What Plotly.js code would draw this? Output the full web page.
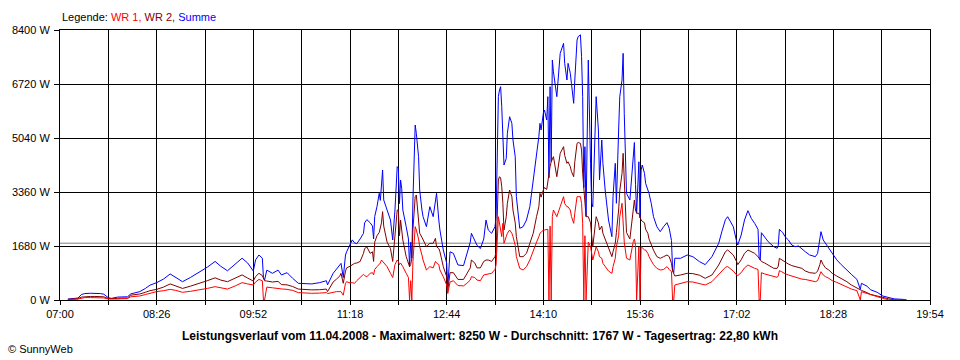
<!DOCTYPE html>
<html><head><meta charset="utf-8">
<script src="https://cdn.plot.ly/plotly-3.0.1.min.js"></script>
<style>html,body{margin:0;padding:0;background:#fff}#chart{width:960px;height:360px}</style>
</head><body><div id="chart"></div>
<script>
const times = ["07:07","07:09","07:16","07:19","07:22","07:27","07:31","07:36","07:39","07:43","07:46","07:51","07:55","08:00","08:03","08:08","08:11","08:16","08:20","08:26","08:32","08:38","08:43","08:49","08:56","09:05","09:11","09:18","09:23","09:29","09:36","09:42","09:47","09:52","09:54","09:57","10:00","10:01","10:02","10:04","10:09","10:14","10:17","10:22","10:27","10:32","10:38","10:44","10:51","10:57","10:58","11:03","11:06","11:09","11:10","11:12","11:14","11:15","11:18","11:20","11:22","11:24","11:27","11:30","11:31","11:33","11:36","11:38","11:39","11:40","11:42","11:44","11:45","11:46","11:47","11:48","11:51","11:54","11:56","11:58","12:00","12:01","12:02","12:03","12:04","12:05","12:08","12:10","12:11","12:12","12:13","12:14","12:16","12:17","12:19","12:20","12:22","12:23","12:26","12:29","12:32","12:34","12:35","12:37","12:38","12:41","12:44","12:45","12:47","12:50","12:54","12:59","13:02","13:05","13:06","13:09","13:11","13:14","13:17","13:19","13:21","13:24","13:27","13:28","13:30","13:31","13:32","13:33","13:34","13:35","13:37","13:38","13:40","13:42","13:43","13:45","13:46","13:48","13:49","13:52","13:55","13:58","14:01","14:04","14:06","14:07","14:08","14:10","14:11","14:13","14:14","14:15","14:16","14:17","14:18","14:19","14:22","14:25","14:28","14:29","14:31","14:32","14:34","14:35","14:37","14:38","14:40","14:41","14:43","14:44","14:45","14:46","14:47","14:48","14:50","14:52","14:53","14:54","14:57","14:59","15:00","15:02","15:03","15:05","15:08","15:11","15:12","15:14","15:15","15:17","15:18","15:20","15:21","15:22","15:24","15:27","15:30","15:31","15:32","15:33","15:35","15:36","15:37","15:38","15:40","15:41","15:43","15:44","15:46","15:48","15:51","15:54","15:57","16:00","16:02","16:04","16:05","16:06","16:07","16:12","16:18","16:23","16:29","16:34","16:40","16:46","16:49","16:52","16:54","16:59","17:02","17:03","17:06","17:09","17:12","17:15","17:18","17:21","17:22","17:23","17:24","17:27","17:30","17:35","17:38","17:39","17:40","17:42","17:43","17:45","17:48","17:51","17:54","17:57","18:00","18:03","18:07","18:12","18:14","18:16","18:17","18:19","18:21","18:24","18:27","18:31","18:35","18:40","18:44","18:49","18:52","18:53","18:58","19:01","19:07","19:12","19:17","19:22","19:30","19:33"];
const wr1 = [20,15,30,60,75,75,70,80,65,30,25,30,40,45,100,110,125,170,215,260,290,330,300,240,270,310,360,415,380,340,440,540,500,467,560,640,600,0,0,400,380,370,345,330,300,230,208,208,215,230,200,250,260,260,260,150,520,570,530,540,519,600,700,800,760,726,830,850,780,950,1037,1100,1150,1244,1200,1150,1037,830,700,1100,1244,1200,1100,1150,1100,1037,830,700,0,600,0,1200,2281,2178,1900,1659,1400,1244,933,1037,1000,1200,1150,1100,933,726,467,200,560,600,450,440,520,620,726,700,620,600,780,800,800,830,950,1100,2592,2385,2300,1970,2385,1763,1970,2075,2178,2075,1970,1700,1348,1100,985,933,1037,1244,1556,1800,1970,2075,2100,2178,2178,2178,2200,0,2300,0,2600,2800,2592,2903,3215,3000,2903,2900,2800,2600,2385,2700,3215,3215,3215,3008,2385,0,2000,0,1800,1659,1400,1244,1659,1500,1348,1300,1141,1037,900,830,1037,1300,1659,2000,2592,3008,2178,1800,1300,1244,1815,1900,1700,0,1650,0,1659,1620,1560,1556,1450,1350,1244,1100,985,933,950,1037,950,880,0,0,467,519,570,560,520,467,570,778,900,1017,1040,900,778,760,850,1000,1089,1030,985,950,0,0,850,809,780,726,705,750,912,880,850,820,778,740,720,675,650,640,601,570,600,760,881,780,726,675,601,550,488,415,342,290,0,259,200,156,104,52,5,0,0,0];
const wr2 = [20,20,40,90,105,110,110,115,100,45,40,50,60,60,150,160,187,240,290,330,400,500,440,360,430,520,600,690,620,570,680,780,680,590,730,830,760,700,600,590,560,580,480,470,420,340,320,315,320,340,260,560,650,750,830,520,900,1000,1050,1100,1140,1150,1200,1450,1600,1650,1450,1500,1200,1800,2000,2100,2300,2400,2748,2300,1800,1600,1200,1900,2800,2800,2000,2489,2200,1867,1348,1100,1037,1100,1300,2200,3214,3267,2593,2075,1950,1867,1659,1763,1763,1919,1659,1600,1504,1037,726,300,850,850,640,640,800,1000,1244,1150,1000,1000,1200,1244,1244,1200,1350,1500,3733,3836,3800,3525,3008,2178,2592,3008,3422,3215,2800,2400,1970,1500,1348,1348,1452,1763,2075,2600,2900,3318,3200,3422,3500,3440,3700,3800,4148,4300,4400,4459,3836,4563,4770,4500,4252,4300,4148,4000,3836,4300,4874,4900,4874,4667,3941,3500,3200,2592,2592,2400,2000,1659,2592,2400,2178,2300,2075,1900,1659,1348,1500,1763,2100,2800,3400,3941,4563,3800,2100,1900,2800,3111,2800,2700,2696,2550,2489,2450,2400,2200,2075,1900,1711,1550,1350,1296,1348,1400,1350,1141,900,800,747,778,830,820,770,675,778,1089,1300,1504,1556,1400,1192,1100,1250,1450,1556,1500,1452,1350,1300,1244,1200,1150,1089,985,985,1050,1296,1250,1220,1192,1120,1070,1037,1010,985,902,850,830,900,1100,1244,1100,1000,933,830,747,675,570,467,363,311,300,228,176,124,73,40,5,0,0];
const summe = [30,35,60,170,200,210,215,200,180,70,50,90,95,100,190,220,260,360,460,540,650,810,700,570,700,880,1020,1200,1050,910,1130,1300,1150,900,1250,1400,1300,700,620,930,830,930,780,850,675,520,510,500,540,600,470,830,960,1100,1140,700,1400,1500,1700,1870,1780,1750,1900,2075,2400,2500,2400,2300,1900,2600,2903,3320,3100,3500,4044,3111,2800,2489,1867,2800,4148,4100,3000,3733,3474,2800,2281,1900,1037,1800,1300,3111,5444,5185,4459,3422,2800,2593,2281,2903,2593,3100,3320,2489,2178,1556,1150,415,1500,1450,1090,1070,1400,1800,2075,1867,1700,1600,1900,2489,2178,2075,2281,2593,6326,6533,6637,6014,5289,4200,4400,5185,5703,5496,4978,4459,3215,2385,2230,2281,2489,2903,3733,4459,5081,5496,5289,5808,5911,5600,6326,3800,6637,4300,7466,7100,6326,7673,7985,7363,6844,7363,7052,6741,6119,6844,8089,8193,8250,7570,6326,3500,4770,2600,7466,4252,3008,2903,6326,5289,3733,4978,4252,3422,2489,1970,3215,4252,3008,5289,6326,6844,7673,5808,3318,3111,4459,4900,3600,2700,4300,2550,4044,4200,3941,3630,3422,3320,3008,2592,2281,2126,2281,2406,2230,1850,933,850,1300,1296,1400,1348,1192,1100,1348,1763,2150,2500,2592,2281,1815,1711,2022,2489,2779,2541,2385,2200,1300,1244,2094,1970,1815,1659,1608,1700,2198,2126,2100,1970,1867,1711,1659,1680,1577,1504,1400,1348,1450,1970,2126,1867,1763,1608,1452,1250,1100,950,800,640,330,519,430,320,240,124,70,35,20,0];
const xTickLabels = ["07:00","08:26","09:52","11:18","12:44","14:10","15:36","17:02","18:28","19:54"];
const yTickVals = [0,1680,3360,5040,6720,8400];
const durchschnitt = 1767;

function toMin(s){const p=s.split(':');return (+p[0])*60+(+p[1]);}
const x = times.map(toMin);
const xTickVals = xTickLabels.map(toMin);
const minorVals = [];
for(let i=0;i<xTickVals.length-1;i++) minorVals.push((xTickVals[i]+xTickVals[i+1])/2);

const FONT = 'Liberation Sans, Arial, sans-serif';
const traces = [
  {x:x, y:summe, type:'scatter', mode:'lines', line:{color:'#0000ff', width:1}, hoverinfo:'skip', name:'Summe'},
  {x:x, y:wr2, type:'scatter', mode:'lines', line:{color:'#800000', width:1}, hoverinfo:'skip', name:'WR 2'},
  {x:x, y:wr1, type:'scatter', mode:'lines', line:{color:'#ff0000', width:1}, hoverinfo:'skip', name:'WR 1'}
];
const layout = {
  width:960, height:360,
  margin:{l:60, r:30, t:30, b:60, pad:0},
  paper_bgcolor:'#fff', plot_bgcolor:'#fff',
  showlegend:false,
  font:{family:FONT, size:11, color:'#000'},
  xaxis:{range:[xTickVals[0], xTickVals[xTickVals.length-1]], tickmode:'array', tickvals:xTickVals, ticktext:xTickLabels,
    showgrid:true, gridcolor:'#000', gridwidth:1, zeroline:false, showline:true, linecolor:'#000', linewidth:1, mirror:true,
    ticks:'outside', ticklen:4, tickcolor:'#000', tickwidth:1, tickfont:{family:FONT, size:11, color:'#000'},
    minor:{tickmode:'array', tickvals:minorVals, showgrid:true, gridcolor:'#000', gridwidth:1, ticks:'outside', ticklen:4, tickcolor:'#000'}},
  yaxis:{range:[0, yTickVals[yTickVals.length-1]], tickmode:'array', tickvals:yTickVals, ticktext:yTickVals.map(v=>v+' W'),
    showgrid:true, gridcolor:'#000', gridwidth:1, zeroline:false, showline:true, linecolor:'#000', linewidth:1, mirror:true,
    ticks:'outside', ticklen:5, tickcolor:'#000', tickfont:{family:FONT, size:11, color:'#000'}, ticklabelstandoff:2},
  shapes:[{type:'line', xref:'paper', x0:0, x1:1, yref:'y', y0:durchschnitt, y1:durchschnitt, line:{color:'#808080', width:1}, layer:'below'}],
  annotations:[
    {xref:'paper', yref:'paper', x:0, y:1+13/270, xanchor:'left', yanchor:'middle', showarrow:false,
     text:'Legende: <span style="color:#ff0000">WR 1,</span> <span style="color:#800000">WR 2,</span> <span style="color:#0000ff">Summe</span>',
     font:{family:FONT, size:11, color:'#000'}},
    {xref:'paper', yref:'paper', x:(480-60)/870, y:-(36/270), xanchor:'center', yanchor:'middle', showarrow:false,
     text:'<b>Leistungsverlauf vom 11.04.2008 - Maximalwert: 8250 W - Durchschnitt: 1767 W - Tagesertrag: 22,80 kWh</b>',
     font:{family:FONT, size:12, color:'#000'}},
    {xref:'paper', yref:'paper', x:(6-60)/870, y:-(49/270), xanchor:'left', yanchor:'middle', showarrow:false,
     text:'© SunnyWeb', font:{family:FONT, size:11, color:'#000'}}
  ]
};
Plotly.newPlot('chart', traces, layout, {displayModeBar:false, staticPlot:true});
</script></body></html>
